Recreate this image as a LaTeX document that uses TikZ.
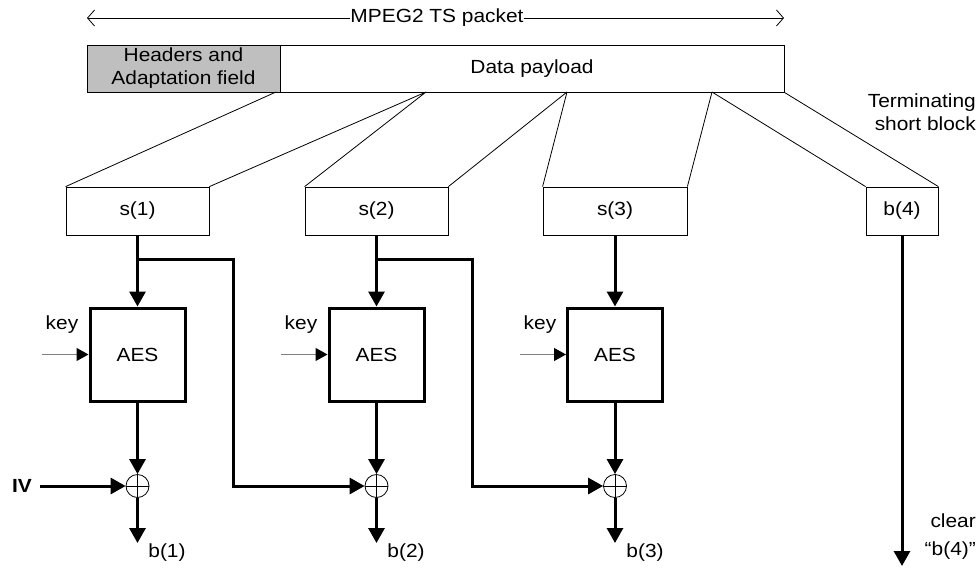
\documentclass[tikz,border=0pt]{standalone}
\usepackage{fontspec}
\setmainfont[FakeStretch=1.1]{Liberation Sans}
\usetikzlibrary{arrows.meta, positioning}

\begin{document}
\begin{tikzpicture}[x=1pt,y=-1pt,font=\fontsize{19}{23}\selectfont,
        >={Triangle[length=15pt,width=16pt]},
        every node/.style={inner sep=0pt},
        blk/.style={draw,line width=0.8pt,minimum height=48pt},
        aesbox/.style={draw,line width=3pt,minimum width=95pt,minimum height=93pt},
        xor/.style={draw,circle,line width=0.8pt,minimum size=23pt,
            path picture={\draw[line width=0.8pt] (path picture bounding box.north) -- (path picture bounding box.south)
                (path picture bounding box.west) -- (path picture bounding box.east);}},
        flow/.style={line width=3pt,->},
        fan/.style={line width=0.8pt},
        span/.style={line width=0.8pt,-{Straight Barb[length=7pt,width=16pt]}},
        keyin/.style={draw=gray,line width=1.2pt,-{Triangle[length=12pt,width=13pt,black]}}]
    \useasboundingbox (0,0) rectangle (977,568);

    % packet
    \node (mpeg) at (437,18) {MPEG2 TS packet};
    \coordinate (pl) at (87,18);
    \coordinate (pr) at (784,18);
    \draw[span] (mpeg.west) -- (pl);
    \draw[span] (mpeg.east) -- (pr);
    \node[blk,fill=gray!50,minimum width=193pt,minimum height=47pt,align=center] (hdr) at (183.5,68.5) {Headers and\\Adaptation field};
    \node[blk,minimum width=504pt,minimum height=47pt] (pay) at (532,68.5) {Data payload};
    \node[align=right,anchor=east] (term) at (976,112) {Terminating\\short block};

    % blocks
    \node[blk,minimum width=143pt] (s1) at (137.5,211) {s(1)};
    \node[blk,minimum width=143pt] (s2) at (376.5,211) {s(2)};
    \node[blk,minimum width=144pt] (s3) at (615,211) {s(3)};
    \node[blk,minimum width=72pt] (b4) at (902,211) {b(4)};

    \coordinate (f0) at (276,92);
    \coordinate (f1) at (426,92);
    \coordinate (f2) at (567,92);
    \coordinate (f3) at (712,92);
    \draw[fan] (f0) -- (s1.north west) (f1) -- (s1.north east) (f1) -- (s2.north west)
        (f2) -- (s2.north east) (f2) -- (s3.north west) (f3) -- (s3.north east)
        (f3) -- (b4.north west) (pay.south east) -- (b4.north east);

    % AES stages
    \node[aesbox,on grid,below=143.5pt of s1] (aes1) {AES};
    \node[aesbox,on grid,below=143.5pt of s2] (aes2) {AES};
    \node[aesbox,on grid,below=143.5pt of s3] (aes3) {AES};
    \node[xor,on grid,below=131.5pt of aes1] (x1) {};
    \node[xor,on grid,below=131.5pt of aes2] (x2) {};
    \node[xor,on grid,below=131.5pt of aes3] (x3) {};

    \node (k1) at (62,325) {key};
    \node (k2) at (301,325) {key};
    \node (k3) at (540,325) {key};
    \coordinate (kin1) at (42,354.5);
    \coordinate (kin2) at (281,354.5);
    \coordinate (kin3) at (520,354.5);
    \draw[keyin] (kin1) -- (aes1);
    \draw[keyin] (kin2) -- (aes2);
    \draw[keyin] (kin3) -- (aes3);

    \draw[flow] (s1) -- (aes1);
    \draw[flow] (s2) -- (aes2);
    \draw[flow] (s3) -- (aes3);
    \draw[flow] (aes1) -- (x1);
    \draw[flow] (aes2) -- (x2);
    \draw[flow] (aes3) -- (x3);

    % chaining
    \node[font=\fontsize{19}{23}\selectfont\bfseries,inner xsep=8pt] (iv) at (22,486) {IV};
    \draw[flow] (iv) -- (x1);
    \coordinate (br1) at (137.5,259);
    \coordinate (br2) at (376.5,259);
    \draw[flow] (br1) -- ++(95.5,0) |- (x2);
    \draw[flow] (br2) -- ++(95.5,0) |- (x3);

    % outputs
    \coordinate (o1) at (137.5,543);
    \coordinate (o2) at (376.5,543);
    \coordinate (o3) at (615,543);
    \coordinate (o4) at (902,566);
    \draw[flow] (x1) -- (o1);
    \draw[flow] (x2) -- (o2);
    \draw[flow] (x3) -- (o3);
    \draw[flow] (b4) -- (o4);
    \node (l1) at (167,553) {b(1)};
    \node (l2) at (406,553) {b(2)};
    \node (l3) at (645,553) {b(3)};
    \node[align=right,anchor=east] (clr) at (976,537) {clear\\[5pt]``b(4)''};
\end{tikzpicture}
\end{document}
